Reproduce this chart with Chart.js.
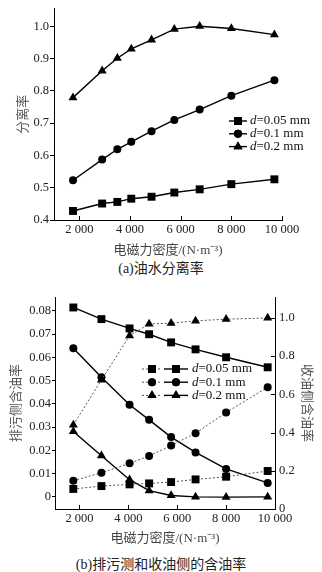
<!DOCTYPE html>
<html><head><meta charset="utf-8">
<script src="https://cdn.jsdelivr.net/npm/chart.js@4.4.1/dist/chart.umd.min.js"></script>
<style>
html,body{margin:0;padding:0;background:#fff;}
body{width:322px;height:572px;position:relative;overflow:hidden;}
canvas{position:absolute;left:0;}
#c1{top:0;}
#c2{top:285px;}
.cap{position:absolute;left:0;width:322px;text-align:center;font-family:"Liberation Serif","Noto Sans CJK SC",serif;font-size:14px;color:#222;line-height:18px;}
</style></head><body>
<canvas id="c1" width="322" height="258"></canvas>
<div class="cap" style="top:260px;">(a)油水分离率</div>
<canvas id="c2" width="322" height="261"></canvas>
<div class="cap" style="top:556px;">(b)排污测和收油侧的含油率</div>
<script>
// ---------- data ----------
const xTop = [1750, 2900, 3500, 4050, 4850, 5750, 6750, 8000, 9700];
const sepD005 = [0.428, 0.451, 0.456, 0.466, 0.472, 0.485, 0.495, 0.511, 0.526];
const sepD01  = [0.523, 0.587, 0.619, 0.642, 0.675, 0.710, 0.742, 0.785, 0.833];
const sepD02  = [0.779, 0.862, 0.901, 0.930, 0.958, 0.991, 1.000, 0.993, 0.974];

const xBottom = [1750, 2900, 4050, 4850, 5750, 6750, 8000, 9700];
const dischargeD005 = [0.0814, 0.0764, 0.0724, 0.0699, 0.0664, 0.0634, 0.0600, 0.0557];
const dischargeD01  = [0.0639, 0.0514, 0.0396, 0.0331, 0.0257, 0.0191, 0.0120, 0.0060];
const dischargeD02  = [0.0281, 0.0177, 0.0074, 0.0027, 0.0006, 0.0000, -0.0001, 0.0000];
const collectD005 = [0.105, 0.120, 0.129, 0.134, 0.141, 0.155, 0.169, 0.199];
const collectD01  = [0.148, 0.190, 0.239, 0.278, 0.332, 0.397, 0.505, 0.638];
const collectD02  = [0.440, 0.676, 0.907, 0.969, 0.973, 0.985, 0.994, 1.000];

const xTicks = [2000, 4000, 6000, 8000, 10000];
const sepTicks = [0.4, 0.5, 0.6, 0.7, 0.8, 0.9, 1.0];
const dischargeTicks = [0, 0.01, 0.02, 0.03, 0.04, 0.05, 0.06, 0.07, 0.08];
const collectTicks = [0, 0.2, 0.4, 0.6, 0.8, 1.0];
const seriesLabels = ['=0.05 mm', '=0.1 mm', '=0.2 mm'];
const xTitle = '电磁力密度/(N·m⁻³)';

// ---------- styling ----------
const SERIF = '"Liberation Serif","Times New Roman",serif';
const CJK = '"Noto Sans CJK SC",sans-serif';
const MIXED = '"Liberation Serif","Noto Sans CJK SC",serif';
const styles = ['rect', 'circle', 'triangle'];
const radii = [5.6, 4, 5.2];

function fmtX(v){ return v >= 1000 ? Math.floor(v/1000) + ' ' + String(v % 1000).padStart(3, '0') : String(v); }
function ds(xs, ys, i, extra){
  return Object.assign({
    data: xs.map((x, k) => ({x: x, y: ys[k]})),
    pointStyle: styles[i], pointRadius: radii[i], pointHoverRadius: radii[i],
    pointBackgroundColor: '#000', pointBorderColor: '#000', pointBorderWidth: 0,
    borderColor: '#000', borderWidth: 1.4, tension: 0, fill: false, clip: false
  }, extra || {});
}

const innerTicks = {
  id: 'innerTicks',
  afterDraw(chart, args, opts){
    const ctx = chart.ctx, a = chart.chartArea;
    ctx.save(); ctx.strokeStyle = '#000'; ctx.lineWidth = 1;
    (opts.ids || []).forEach(id => {
      const s = chart.scales[id];
      s.ticks.forEach(t => {
        const p = Math.round(s.getPixelForValue(t.value)) + 0.5;
        ctx.beginPath();
        if (s.isHorizontal()) { ctx.moveTo(p, a.bottom); ctx.lineTo(p, a.bottom - 4); }
        else if (s.position === 'right') { ctx.moveTo(a.right, p); ctx.lineTo(a.right - 4, p); }
        else { ctx.moveTo(a.left, p); ctx.lineTo(a.left + 4, p); }
        ctx.stroke();
      });
    });
    ctx.restore();
  }
};

const customLegend = {
  id: 'customLegend',
  afterDraw(chart, args, o){
    const ctx = chart.ctx;
    ctx.save();
    seriesLabels.forEach((lab, i) => {
      const y = o.y + i * o.dy;
      if (o.dual) {
        ctx.strokeStyle = '#555'; ctx.lineWidth = 1; ctx.setLineDash([2, 2]);
        ctx.beginPath(); ctx.moveTo(o.dx0, y); ctx.lineTo(o.dx1, y); ctx.stroke();
        ctx.setLineDash([]);
        Chart.helpers.drawPoint(ctx, {pointStyle: styles[i], radius: radii[i], borderWidth: 0}, (o.dx0 + o.dx1) / 2, y);
        ctx.fillStyle = '#000'; ctx.fill();
      }
      ctx.strokeStyle = '#000'; ctx.lineWidth = 1.4;
      ctx.beginPath(); ctx.moveTo(o.x0, y); ctx.lineTo(o.x1, y); ctx.stroke();
      ctx.fillStyle = '#000';
      Chart.helpers.drawPoint(ctx, {pointStyle: styles[i], radius: radii[i], borderWidth: 0}, (o.x0 + o.x1) / 2, y);
      ctx.fill();
      ctx.fillStyle = '#111'; ctx.textBaseline = 'middle'; ctx.textAlign = 'left';
      ctx.font = 'italic 13px ' + SERIF;
      ctx.fillText('d', o.tx, y);
      const w = ctx.measureText('d').width;
      ctx.font = '13px ' + SERIF;
      ctx.fillText(lab, o.tx + w, y);
    });
    ctx.restore();
  }
};

Chart.defaults.animation = false;

// ---------- chart (a) ----------
new Chart(document.getElementById('c1'), {
  type: 'line',
  data: { datasets: [ds(xTop, sepD005, 0), ds(xTop, sepD01, 1), ds(xTop, sepD02, 2)] },
  options: {
    responsive: false, animation: false,
    layout: { padding: { top: 7, right: 40, left: 0, bottom: 0 } },
    plugins: {
      legend: { display: false }, tooltip: { enabled: false },
      innerTicks: { ids: ['x'] },
      customLegend: { y: 121, dy: 12.8, x0: 229, x1: 247, tx: 250, dual: false }
    },
    scales: {
      x: {
        type: 'linear', min: 1000, max: 10000,
        afterBuildTicks: s => { s.ticks = xTicks.map(v => ({value: v})); },
        afterFit: s => { s.height = 38; },
        ticks: { padding: 2, maxRotation: 0, autoSkip: false, color: '#222', font: { family: SERIF, size: 12.5 }, callback: v => fmtX(v) },
        grid: { display: true, drawOnChartArea: false, drawTicks: false },
        border: { display: true, color: '#000', width: 1 },
        title: { display: true, text: xTitle, color: '#444', font: { family: MIXED, size: 13 }, padding: { top: 0, bottom: 0 } }
      },
      y: {
        type: 'linear', min: 0.4, max: 1.055,
        afterBuildTicks: s => { s.ticks = sepTicks.map(v => ({value: v})); },
        afterFit: s => { s.width = 54; },
        ticks: { padding: 1, color: '#222', font: { family: SERIF, size: 12.5 }, callback: v => v.toFixed(1) },
        grid: { display: true, drawOnChartArea: false, drawTicks: true, tickLength: 4, color: '#000' },
        border: { display: true, color: '#000', width: 1 },
        title: { display: true, text: '分离率', color: '#555', font: { family: CJK, size: 13 }, padding: { top: 14, bottom: 0 } }
      }
    }
  },
  plugins: [innerTicks, customLegend]
});

// ---------- chart (b) ----------
const dotted = { borderColor: '#555', borderWidth: 1, borderDash: [2, 2], yAxisID: 'y1' };
new Chart(document.getElementById('c2'), {
  type: 'line',
  data: { datasets: [
    ds(xBottom, collectD005, 0, dotted), ds(xBottom, collectD01, 1, dotted), ds(xBottom, collectD02, 2, dotted),
    ds(xBottom, dischargeD005, 0, { yAxisID: 'y' }), ds(xBottom, dischargeD01, 1, { yAxisID: 'y' }), ds(xBottom, dischargeD02, 2, { yAxisID: 'y' })
  ] },
  options: {
    responsive: false, animation: false,
    layout: { padding: { top: 12, right: 0, left: 0, bottom: 0 } },
    plugins: {
      legend: { display: false }, tooltip: { enabled: false },
      innerTicks: { ids: ['x', 'y1'] },
      customLegend: { y: 84, dy: 13.2, dx0: 142, dx1: 162, x0: 164, x1: 188, tx: 192, dual: true }
    },
    scales: {
      x: {
        type: 'linear', min: 1000, max: 10000,
        afterBuildTicks: s => { s.ticks = xTicks.map(v => ({value: v})); },
        afterFit: s => { s.height = 37; },
        ticks: { padding: 2, maxRotation: 0, autoSkip: false, color: '#222', font: { family: SERIF, size: 12.5 }, callback: v => fmtX(v) },
        grid: { display: true, drawOnChartArea: false, drawTicks: false },
        border: { display: true, color: '#000', width: 1 },
        title: { display: true, text: xTitle, color: '#444', font: { family: MIXED, size: 13 }, padding: { top: 0, bottom: 0 } }
      },
      y: {
        type: 'linear', position: 'left', min: -0.0052, max: 0.0859,
        afterBuildTicks: s => { s.ticks = dischargeTicks.map(v => ({value: v})); },
        afterFit: s => { s.width = 55; },
        ticks: { padding: 1, color: '#222', font: { family: SERIF, size: 12.5 }, callback: v => v === 0 ? '0' : v.toFixed(2) },
        grid: { display: true, drawOnChartArea: false, drawTicks: true, tickLength: 3, color: '#000' },
        border: { display: true, color: '#000', width: 1 },
        title: { display: true, text: '排污侧含油率', color: '#555', font: { family: CJK, size: 13 }, padding: { top: 7, bottom: 0 } }
      },
      y1: {
        type: 'linear', position: 'right', min: 0, max: 1.11,
        afterBuildTicks: s => { s.ticks = collectTicks.map(v => ({value: v})); },
        afterFit: s => { s.width = 47; },
        ticks: { padding: 4, color: '#222', font: { family: SERIF, size: 12.5 }, callback: v => v === 0 ? '0' : v.toFixed(1) },
        grid: { display: true, drawOnChartArea: false, drawTicks: false },
        border: { display: true, color: '#000', width: 1 },
        title: { display: true, text: '收油侧含油率', color: '#555', font: { family: CJK, size: 13 }, padding: { top: 6, bottom: 0 } }
      }
    }
  },
  plugins: [innerTicks, customLegend]
});
</script>
</body></html>
